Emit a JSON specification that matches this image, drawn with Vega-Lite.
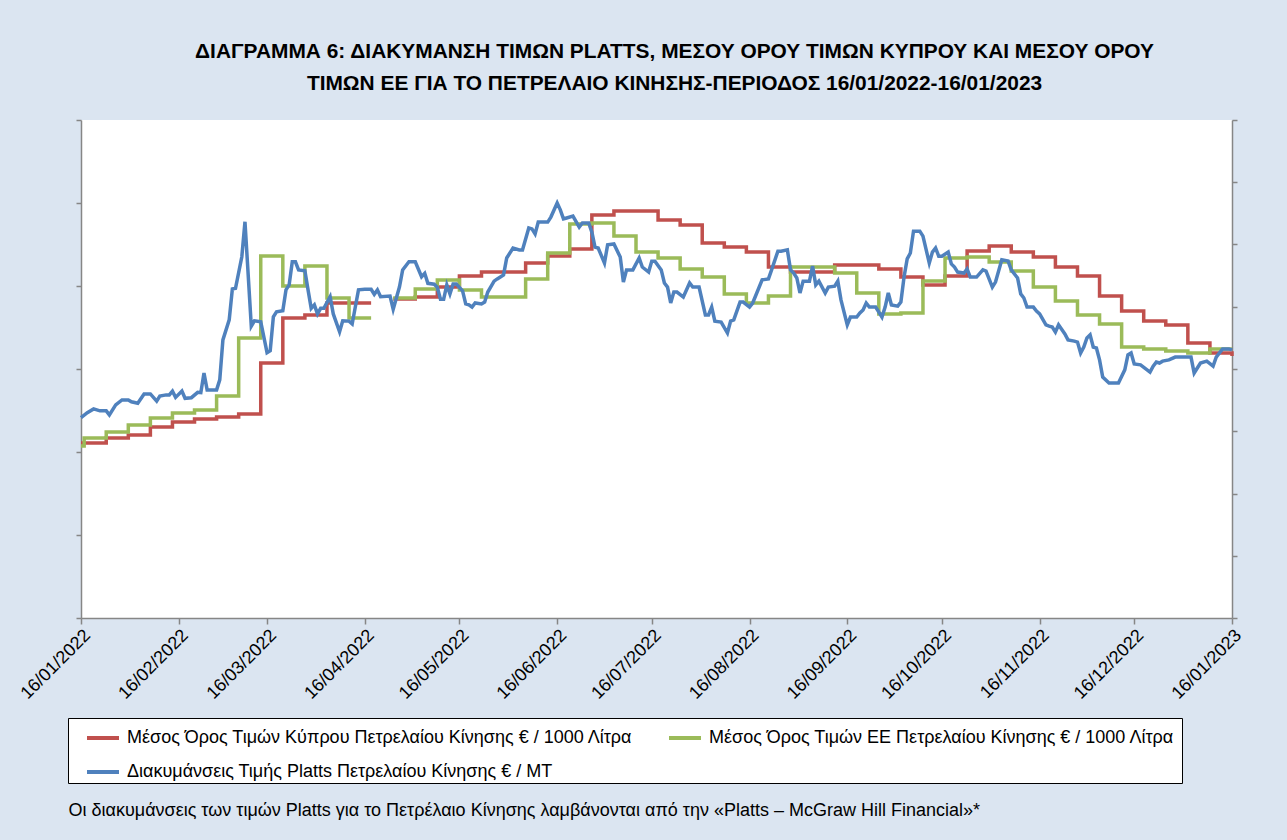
{
  "$schema": "https://vega.github.io/schema/vega-lite/v6.json",
  "width": 1151,
  "height": 498,
  "autosize": {"type": "none"},
  "padding": {"left": 81, "top": 120, "right": 55, "bottom": 222},
  "background": "#dbe5f1",
  "config": {
    "view": {"fill": "white", "stroke": null},
    "font": "Liberation Sans",
    "axis": {"domainColor": "#868686", "tickColor": "#868686", "grid": false, "domainWidth": 1.5, "tickWidth": 1.5},
    "legend": {
      "orient": "none",
      "legendX": -13,
      "legendY": 598,
      "columns": 2,
      "direction": "horizontal",
      "symbolType": "stroke",
      "symbolStrokeWidth": 4,
      "symbolSize": 1024,
      "symbolOffset": 15,
      "labelFontSize": 18,
      "labelColor": "black",
      "labelLimit": 0,
      "labelOffset": 6,
      "strokeColor": "black",
      "fillColor": "white",
      "padding": 2,
      "rowPadding": 7,
      "columnPadding": 14
    }
  },
  "title": {
    "text": ["ΔΙΑΓΡΑΜΜΑ 6: ΔΙΑΚΥΜΑΝΣΗ ΤΙΜΩΝ PLATTS, ΜΕΣΟΥ ΟΡΟΥ ΤΙΜΩΝ ΚΥΠΡΟΥ ΚΑΙ ΜΕΣΟΥ ΟΡΟΥ", "ΤΙΜΩΝ ΕΕ ΓΙΑ ΤΟ ΠΕΤΡΕΛΑΙΟ ΚΙΝΗΣΗΣ-ΠΕΡΙΟΔΟΣ 16/01/2022-16/01/2023"],
    "fontSize": 20.9,
    "fontWeight": "bold",
    "color": "black",
    "lineHeight": 32,
    "anchor": "middle",
    "dx": 18,
    "offset": 25
  },
  "datasets": {
    "cy": [
      {"d":"2022-01-16","v":1325,"g":1},{"d":"2022-01-24","v":1340,"g":1},{"d":"2022-01-31","v":1349,"g":1},{"d":"2022-02-07","v":1373,"g":1},{"d":"2022-02-14","v":1388,"g":1},{"d":"2022-02-21","v":1397,"g":1},{"d":"2022-02-28","v":1403,"g":1},{"d":"2022-03-07","v":1412,"g":1},{"d":"2022-03-14","v":1565,"g":1},{"d":"2022-03-21","v":1700,"g":1},{"d":"2022-03-28","v":1709,"g":1},{"d":"2022-04-04","v":1745,"g":1},{"d":"2022-04-11","v":1745,"g":1},{"d":"2022-04-18","v":1745,"g":1},
      {"d":"2022-04-25","v":1757,"g":2},{"d":"2022-05-02","v":1763,"g":2},{"d":"2022-05-09","v":1793,"g":2},{"d":"2022-05-16","v":1826,"g":2},{"d":"2022-05-23","v":1838,"g":2},{"d":"2022-05-30","v":1838,"g":2},{"d":"2022-06-06","v":1865,"g":2},{"d":"2022-06-13","v":1886,"g":2},{"d":"2022-06-20","v":1907,"g":2},{"d":"2022-06-27","v":2009,"g":2},{"d":"2022-07-04","v":2021,"g":2},{"d":"2022-07-11","v":2021,"g":2},{"d":"2022-07-18","v":1994,"g":2},{"d":"2022-07-25","v":1979,"g":2},{"d":"2022-08-01","v":1925,"g":2},{"d":"2022-08-08","v":1913,"g":2},{"d":"2022-08-15","v":1898,"g":2},{"d":"2022-08-22","v":1853,"g":2},{"d":"2022-08-29","v":1838,"g":2},{"d":"2022-09-05","v":1838,"g":2},{"d":"2022-09-12","v":1859,"g":2},{"d":"2022-09-19","v":1859,"g":2},{"d":"2022-09-26","v":1847,"g":2},{"d":"2022-10-03","v":1823,"g":2},{"d":"2022-10-10","v":1799,"g":2},{"d":"2022-10-17","v":1826,"g":2},{"d":"2022-10-24","v":1901,"g":2},{"d":"2022-10-31","v":1916,"g":2},{"d":"2022-11-07","v":1898,"g":2},{"d":"2022-11-14","v":1883,"g":2},{"d":"2022-11-21","v":1853,"g":2},{"d":"2022-11-28","v":1826,"g":2},{"d":"2022-12-05","v":1766,"g":2},{"d":"2022-12-12","v":1721,"g":2},{"d":"2022-12-19","v":1691,"g":2},{"d":"2022-12-26","v":1679,"g":2},{"d":"2023-01-02","v":1625,"g":2},{"d":"2023-01-09","v":1595,"g":2},{"d":"2023-01-16","v":1586,"g":2}
    ],
    "eu": [
      {"d":"2022-01-16","v":1316,"g":1},{"d":"2022-01-17","v":1340,"g":1},{"d":"2022-01-24","v":1358,"g":1},{"d":"2022-01-31","v":1379,"g":1},{"d":"2022-02-07","v":1400,"g":1},{"d":"2022-02-14","v":1415,"g":1},{"d":"2022-02-21","v":1424,"g":1},{"d":"2022-02-28","v":1466,"g":1},{"d":"2022-03-07","v":1640,"g":1},{"d":"2022-03-14","v":1886,"g":1},{"d":"2022-03-21","v":1796,"g":1},{"d":"2022-03-28","v":1856,"g":1},{"d":"2022-04-04","v":1760,"g":1},{"d":"2022-04-11","v":1700,"g":1},{"d":"2022-04-18","v":1700,"g":1},
      {"d":"2022-04-25","v":1760,"g":2},{"d":"2022-05-02","v":1787,"g":2},{"d":"2022-05-09","v":1814,"g":2},{"d":"2022-05-16","v":1784,"g":2},{"d":"2022-05-23","v":1763,"g":2},{"d":"2022-05-30","v":1763,"g":2},{"d":"2022-06-06","v":1817,"g":2},{"d":"2022-06-13","v":1895,"g":2},{"d":"2022-06-20","v":1982,"g":2},{"d":"2022-06-27","v":1985,"g":2},{"d":"2022-07-04","v":1946,"g":2},{"d":"2022-07-11","v":1898,"g":2},{"d":"2022-07-18","v":1880,"g":2},{"d":"2022-07-25","v":1847,"g":2},{"d":"2022-08-01","v":1823,"g":2},{"d":"2022-08-08","v":1772,"g":2},{"d":"2022-08-15","v":1745,"g":2},{"d":"2022-08-22","v":1766,"g":2},{"d":"2022-08-29","v":1853,"g":2},{"d":"2022-09-05","v":1853,"g":2},{"d":"2022-09-12","v":1835,"g":2},{"d":"2022-09-19","v":1775,"g":2},{"d":"2022-09-26","v":1712,"g":2},{"d":"2022-10-03","v":1715,"g":2},{"d":"2022-10-10","v":1811,"g":2},{"d":"2022-10-17","v":1880,"g":2},{"d":"2022-10-24","v":1883,"g":2},{"d":"2022-10-31","v":1868,"g":2},{"d":"2022-11-07","v":1841,"g":2},{"d":"2022-11-14","v":1793,"g":2},{"d":"2022-11-21","v":1751,"g":2},{"d":"2022-11-28","v":1709,"g":2},{"d":"2022-12-05","v":1682,"g":2},{"d":"2022-12-12","v":1613,"g":2},{"d":"2022-12-19","v":1607,"g":2},{"d":"2022-12-26","v":1601,"g":2},{"d":"2023-01-02","v":1595,"g":2},{"d":"2023-01-09","v":1607,"g":2},{"d":"2023-01-16","v":1607,"g":2}
    ],
    "pl": [
      {"d":"2022-01-16","v":641},{"d":"2022-01-18","v":657},{"d":"2022-01-20","v":669},{"d":"2022-01-22","v":663},{"d":"2022-01-24","v":663},{"d":"2022-01-25","v":650},{"d":"2022-01-27","v":682},{"d":"2022-01-29","v":698},{"d":"2022-01-31","v":698},
      {"d":"2022-02-01","v":692},{"d":"2022-02-03","v":687},{"d":"2022-02-05","v":717},{"d":"2022-02-07","v":717},{"d":"2022-02-09","v":694},{"d":"2022-02-10","v":710},{"d":"2022-02-12","v":714},{"d":"2022-02-13","v":714},{"d":"2022-02-14","v":726},{"d":"2022-02-15","v":706},{"d":"2022-02-17","v":726},{"d":"2022-02-18","v":703},{"d":"2022-02-20","v":705},{"d":"2022-02-22","v":722},{"d":"2022-02-23","v":721},{"d":"2022-02-24","v":784},{"d":"2022-02-25","v":730},{"d":"2022-02-28","v":730},
      {"d":"2022-03-01","v":762},{"d":"2022-03-02","v":890},{"d":"2022-03-04","v":954},{"d":"2022-03-05","v":1053},{"d":"2022-03-06","v":1055},{"d":"2022-03-08","v":1156},{"d":"2022-03-09","v":1268},{"d":"2022-03-11","v":934},{"d":"2022-03-12","v":951},{"d":"2022-03-14","v":948},{"d":"2022-03-16","v":849},{"d":"2022-03-17","v":855},{"d":"2022-03-18","v":964},{"d":"2022-03-19","v":980},{"d":"2022-03-21","v":983},{"d":"2022-03-22","v":1050},{"d":"2022-03-23","v":1066},{"d":"2022-03-24","v":1140},{"d":"2022-03-25","v":1140},{"d":"2022-03-26","v":1114},{"d":"2022-03-28","v":1111},{"d":"2022-03-29","v":1050},{"d":"2022-03-30","v":991},{"d":"2022-03-31","v":1002},
      {"d":"2022-04-01","v":973},{"d":"2022-04-02","v":991},{"d":"2022-04-03","v":991},{"d":"2022-04-05","v":1028},{"d":"2022-04-06","v":973},{"d":"2022-04-08","v":916},{"d":"2022-04-09","v":951},{"d":"2022-04-11","v":950},{"d":"2022-04-12","v":941},{"d":"2022-04-13","v":996},{"d":"2022-04-14","v":1050},{"d":"2022-04-16","v":1052},{"d":"2022-04-18","v":1052},{"d":"2022-04-19","v":1036},{"d":"2022-04-20","v":1050},{"d":"2022-04-21","v":1028},{"d":"2022-04-24","v":1030},{"d":"2022-04-25","v":988},{"d":"2022-04-27","v":1060},{"d":"2022-04-28","v":1114},{"d":"2022-04-30","v":1140},
      {"d":"2022-05-02","v":1140},{"d":"2022-05-04","v":1092},{"d":"2022-05-05","v":1103},{"d":"2022-05-06","v":1071},{"d":"2022-05-08","v":1068},{"d":"2022-05-09","v":1058},{"d":"2022-05-10","v":1020},{"d":"2022-05-11","v":1020},{"d":"2022-05-12","v":1066},{"d":"2022-05-13","v":1037},{"d":"2022-05-14","v":1069},{"d":"2022-05-15","v":1069},{"d":"2022-05-17","v":1047},{"d":"2022-05-18","v":1005},{"d":"2022-05-19","v":1002},{"d":"2022-05-20","v":995},{"d":"2022-05-21","v":1008},{"d":"2022-05-23","v":1005},{"d":"2022-05-24","v":1011},{"d":"2022-05-25","v":1043},{"d":"2022-05-27","v":1078},{"d":"2022-05-28","v":1085},{"d":"2022-05-30","v":1098},{"d":"2022-05-31","v":1152},
      {"d":"2022-06-02","v":1184},{"d":"2022-06-04","v":1178},{"d":"2022-06-05","v":1178},{"d":"2022-06-07","v":1248},{"d":"2022-06-08","v":1245},{"d":"2022-06-09","v":1229},{"d":"2022-06-10","v":1267},{"d":"2022-06-12","v":1267},{"d":"2022-06-13","v":1267},{"d":"2022-06-14","v":1283},{"d":"2022-06-16","v":1328},{"d":"2022-06-17","v":1306},{"d":"2022-06-18","v":1277},{"d":"2022-06-19","v":1280},{"d":"2022-06-21","v":1286},{"d":"2022-06-23","v":1251},{"d":"2022-06-24","v":1264},{"d":"2022-06-26","v":1264},{"d":"2022-06-27","v":1235},{"d":"2022-06-28","v":1187},{"d":"2022-06-29","v":1184},
      {"d":"2022-07-01","v":1136},{"d":"2022-07-02","v":1194},{"d":"2022-07-04","v":1197},{"d":"2022-07-06","v":1155},{"d":"2022-07-07","v":1075},{"d":"2022-07-08","v":1114},{"d":"2022-07-10","v":1114},{"d":"2022-07-12","v":1152},{"d":"2022-07-13","v":1123},{"d":"2022-07-15","v":1107},{"d":"2022-07-16","v":1142},{"d":"2022-07-17","v":1142},{"d":"2022-07-19","v":1114},{"d":"2022-07-20","v":1072},{"d":"2022-07-21","v":1059},{"d":"2022-07-22","v":1008},{"d":"2022-07-23","v":1043},{"d":"2022-07-24","v":1043},{"d":"2022-07-26","v":1027},{"d":"2022-07-28","v":1072},{"d":"2022-07-29","v":1059},{"d":"2022-07-31","v":1059},
      {"d":"2022-08-02","v":970},{"d":"2022-08-03","v":970},{"d":"2022-08-04","v":995},{"d":"2022-08-05","v":950},{"d":"2022-08-07","v":947},{"d":"2022-08-09","v":912},{"d":"2022-08-10","v":950},{"d":"2022-08-11","v":954},{"d":"2022-08-13","v":1011},{"d":"2022-08-14","v":1011},{"d":"2022-08-16","v":995},{"d":"2022-08-17","v":1008},{"d":"2022-08-20","v":1082},{"d":"2022-08-22","v":1085},{"d":"2022-08-23","v":1114},{"d":"2022-08-25","v":1174},{"d":"2022-08-26","v":1174},{"d":"2022-08-28","v":1178},{"d":"2022-08-29","v":1114},{"d":"2022-08-30","v":1104},{"d":"2022-08-31","v":1088},
      {"d":"2022-09-01","v":1040},{"d":"2022-09-02","v":1078},{"d":"2022-09-04","v":1078},{"d":"2022-09-05","v":1126},{"d":"2022-09-06","v":1066},{"d":"2022-09-07","v":1078},{"d":"2022-09-09","v":1040},{"d":"2022-09-10","v":1059},{"d":"2022-09-12","v":1062},{"d":"2022-09-13","v":1078},{"d":"2022-09-14","v":1018},{"d":"2022-09-16","v":938},{"d":"2022-09-17","v":963},{"d":"2022-09-19","v":963},{"d":"2022-09-20","v":976},{"d":"2022-09-21","v":986},{"d":"2022-09-22","v":1008},{"d":"2022-09-23","v":995},{"d":"2022-09-25","v":995},{"d":"2022-09-27","v":963},{"d":"2022-09-28","v":995},{"d":"2022-09-29","v":1040},{"d":"2022-09-30","v":1002},
      {"d":"2022-10-02","v":998},{"d":"2022-10-03","v":1011},{"d":"2022-10-04","v":1091},{"d":"2022-10-05","v":1149},{"d":"2022-10-06","v":1168},{"d":"2022-10-07","v":1238},{"d":"2022-10-09","v":1238},{"d":"2022-10-10","v":1222},{"d":"2022-10-12","v":1136},{"d":"2022-10-13","v":1171},{"d":"2022-10-14","v":1184},{"d":"2022-10-15","v":1158},{"d":"2022-10-16","v":1158},{"d":"2022-10-18","v":1171},{"d":"2022-10-19","v":1133},{"d":"2022-10-20","v":1123},{"d":"2022-10-21","v":1107},{"d":"2022-10-23","v":1104},{"d":"2022-10-24","v":1117},{"d":"2022-10-25","v":1091},{"d":"2022-10-27","v":1091},{"d":"2022-10-29","v":1114},{"d":"2022-10-30","v":1110},
      {"d":"2022-11-01","v":1059},{"d":"2022-11-02","v":1075},{"d":"2022-11-04","v":1146},{"d":"2022-11-06","v":1142},{"d":"2022-11-07","v":1114},{"d":"2022-11-09","v":1088},{"d":"2022-11-10","v":1037},{"d":"2022-11-11","v":1024},{"d":"2022-11-12","v":995},{"d":"2022-11-14","v":995},{"d":"2022-11-15","v":982},{"d":"2022-11-16","v":973},{"d":"2022-11-18","v":938},{"d":"2022-11-19","v":934},{"d":"2022-11-20","v":931},{"d":"2022-11-21","v":915},{"d":"2022-11-22","v":938},{"d":"2022-11-24","v":909},{"d":"2022-11-25","v":890},{"d":"2022-11-27","v":886},{"d":"2022-11-28","v":883},{"d":"2022-11-29","v":848},{"d":"2022-11-30","v":867},
      {"d":"2022-12-01","v":896},{"d":"2022-12-02","v":906},{"d":"2022-12-03","v":867},{"d":"2022-12-04","v":864},{"d":"2022-12-05","v":826},{"d":"2022-12-06","v":771},{"d":"2022-12-08","v":752},{"d":"2022-12-11","v":752},{"d":"2022-12-13","v":794},{"d":"2022-12-14","v":842},{"d":"2022-12-15","v":848},{"d":"2022-12-16","v":813},{"d":"2022-12-18","v":810},{"d":"2022-12-21","v":787},{"d":"2022-12-22","v":806},{"d":"2022-12-23","v":819},{"d":"2022-12-24","v":816},{"d":"2022-12-25","v":822},{"d":"2022-12-27","v":826},{"d":"2022-12-29","v":835},
      {"d":"2023-01-03","v":835},{"d":"2023-01-04","v":784},{"d":"2023-01-06","v":816},{"d":"2023-01-08","v":822},{"d":"2023-01-10","v":806},{"d":"2023-01-11","v":835},{"d":"2023-01-13","v":861},{"d":"2023-01-15","v":861},{"d":"2023-01-16","v":858}
    ]
  },
  "encoding": {
    "x": {
      "field": "d",
      "type": "temporal",
      "scale": {"domain": [{"year": 2022, "month": 1, "date": 16}, {"year": 2023, "month": 1, "date": 16}]},
      "axis": {
        "values": [
          {"year": 2022, "month": 1, "date": 16}, {"year": 2022, "month": 2, "date": 16}, {"year": 2022, "month": 3, "date": 16},
          {"year": 2022, "month": 4, "date": 16}, {"year": 2022, "month": 5, "date": 16}, {"year": 2022, "month": 6, "date": 16},
          {"year": 2022, "month": 7, "date": 16}, {"year": 2022, "month": 8, "date": 16}, {"year": 2022, "month": 9, "date": 16},
          {"year": 2022, "month": 10, "date": 16}, {"year": 2022, "month": 11, "date": 16}, {"year": 2022, "month": 12, "date": 16},
          {"year": 2023, "month": 1, "date": 16}
        ],
        "format": "%d/%m/%Y",
        "labelAngle": -45,
        "labelAlign": "right",
        "labelBaseline": "top",
        "labelFontSize": 18,
        "labelColor": "black",
        "labelPadding": 2,
        "labelOverlap": false,
        "labelFlush": false,
        "labelBound": false,
        "tickSize": 6,
        "title": "Οι διακυμάνσεις των τιμών Platts για το Πετρέλαιο Κίνησης λαμβάνονται από την «Platts – McGraw Hill Financial»*",
        "titleX": -13,
        "titleY": 192,
        "titleAlign": "left",
        "titleBaseline": "middle",
        "titleFontSize": 18,
        "titleFontWeight": "normal",
        "titleColor": "black"
      }
    }
  },
  "layer": [
    {
      "encoding": {
        "y": {
          "field": "v",
          "type": "quantitative",
          "scale": {"domain": [800, 2294], "nice": false, "zero": false},
          "axis": {"orient": "left", "values": [800, 1049, 1298, 1547, 1796, 2045, 2294], "labels": false, "tickSize": 5, "title": null}
        }
      },
      "layer": [
        {
          "data": {"name": "cy"},
          "mark": {"type": "line", "interpolate": "step-after", "strokeWidth": 3.5},
          "encoding": {
            "detail": {"field": "g"},
            "color": {
              "datum": "Μέσος Όρος Τιμών Κύπρου Πετρελαίου Κίνησης  € / 1000 Λίτρα",
              "scale": {
                "domain": ["Μέσος Όρος Τιμών Κύπρου Πετρελαίου Κίνησης  € / 1000 Λίτρα", "Μέσος Όρος Τιμών ΕΕ Πετρελαίου Κίνησης  € / 1000 Λίτρα", "Διακυμάνσεις Τιμής Platts Πετρελαίου Κίνησης € / MT"],
                "range": ["#c0504d", "#9bbb59", "#4f81bd"]
              },
              "legend": {"title": null, "labelExpr": "indexof(datum.label, 'ΕΕ') >= 0 ? datum.label + '\u2003\u2003\u2003' : datum.label"}
            }
          }
        },
        {
          "data": {"name": "eu"},
          "mark": {"type": "line", "interpolate": "step-after", "strokeWidth": 3.5},
          "encoding": {
            "detail": {"field": "g"},
            "color": {
              "datum": "Μέσος Όρος Τιμών ΕΕ Πετρελαίου Κίνησης  € / 1000 Λίτρα",
              "scale": {
                "domain": ["Μέσος Όρος Τιμών Κύπρου Πετρελαίου Κίνησης  € / 1000 Λίτρα", "Μέσος Όρος Τιμών ΕΕ Πετρελαίου Κίνησης  € / 1000 Λίτρα", "Διακυμάνσεις Τιμής Platts Πετρελαίου Κίνησης € / MT"],
                "range": ["#c0504d", "#9bbb59", "#4f81bd"]
              },
              "legend": {"title": null, "labelExpr": "indexof(datum.label, 'ΕΕ') >= 0 ? datum.label + '\u2003\u2003\u2003' : datum.label"}
            }
          }
        }
      ]
    },
    {
      "data": {"name": "pl"},
      "mark": {"type": "line", "strokeWidth": 3.5},
      "encoding": {
        "y": {
          "field": "v",
          "type": "quantitative",
          "scale": {"domain": [0, 1593.6], "nice": false},
          "axis": {"orient": "right", "values": [0, 199.2, 398.4, 597.6, 796.8, 996, 1195.2, 1394.4, 1593.6], "labels": false, "tickSize": 5, "title": null}
        },
        "color": {
          "datum": "Διακυμάνσεις Τιμής Platts Πετρελαίου Κίνησης € / MT",
          "scale": {
            "domain": ["Μέσος Όρος Τιμών Κύπρου Πετρελαίου Κίνησης  € / 1000 Λίτρα", "Μέσος Όρος Τιμών ΕΕ Πετρελαίου Κίνησης  € / 1000 Λίτρα", "Διακυμάνσεις Τιμής Platts Πετρελαίου Κίνησης € / MT"],
            "range": ["#c0504d", "#9bbb59", "#4f81bd"]
          },
          "legend": {"title": null, "labelExpr": "indexof(datum.label, 'ΕΕ') >= 0 ? datum.label + '\u2003\u2003\u2003' : datum.label"}
        }
      }
    }
  ],
  "resolve": {"scale": {"y": "independent"}}
}
